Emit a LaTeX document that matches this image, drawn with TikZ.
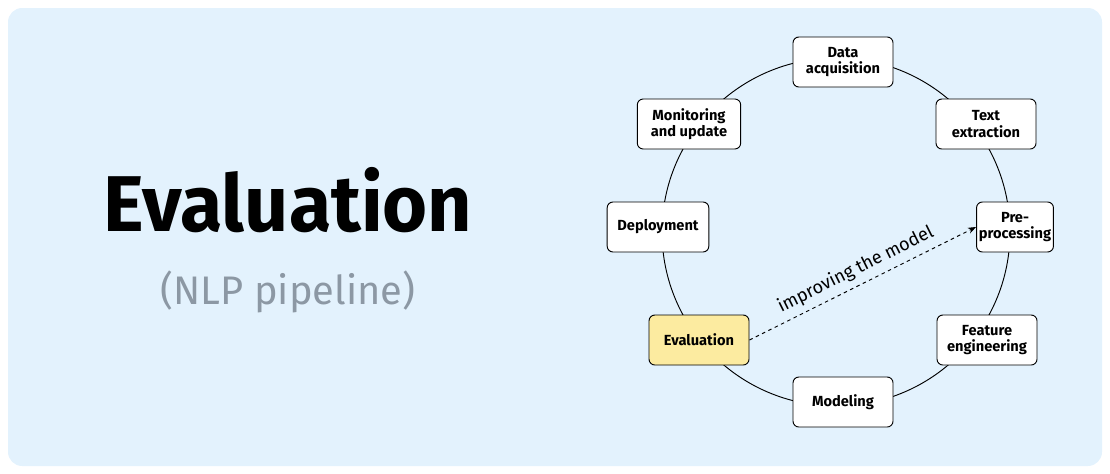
\documentclass[tikz,border=0pt]{standalone}
\usepackage{fontspec}
\setmainfont{Fira Sans}
\usetikzlibrary{arrows.meta}
\definecolor{bgblue}{HTML}{E3F2FD}
\definecolor{hl}{HTML}{FCEBA0}
\definecolor{subgray}{HTML}{8C98A4}
\begin{document}
\begin{tikzpicture}[x=0.03cm,y=-0.03cm,
  stage/.style={draw=black,line width=0.8pt,rounded corners=5pt,fill=white,align=center,
    font=\bfseries\fontsize{12.5}{14}\selectfont,inner sep=2pt,minimum height=1.5cm}]
\useasboundingbox (0,0) rectangle (1110,474);
\fill[bgblue,rounded corners=12pt] (8,8) rectangle (1102,466);
\node (title) at (288,200) {\scalebox{1.22}[1.25]{\bfseries\fontsize{54}{60}\selectfont Evaluation}};
\node[text=subgray,font=\fontsize{34}{38}\selectfont] (sub) at (288,292) {(NLP pipeline)};
\draw[line width=0.8pt] (836,232) circle [radius=174*0.03cm];
\node[stage,minimum width=3cm] (d) at (843,62) {Data\\acquisition};
\node[stage,minimum width=3cm] (t) at (986,124) {Text\\extraction};
\node[stage,minimum width=2.3cm] (p) at (1015,227) {Pre-\\processing};
\node[stage,minimum width=3cm] (f) at (987,340) {Feature\\engineering};
\node[stage,minimum width=3cm] (m) at (843,402) {Modeling};
\node[stage,minimum width=3cm,fill=hl] (e) at (699,340) {Evaluation};
\node[stage,minimum width=3.05cm] (dep) at (658,227) {Deployment};
\node[stage,minimum width=3.1cm] (mon) at (689,124) {Monitoring\\and update};
\draw[dashed,line width=0.8pt,-{Stealth[length=7pt]}] (e.east) -- node[sloped,above=2pt,font=\fontsize{15.5}{17}\selectfont] {improving the model} (p.west);
\end{tikzpicture}
\end{document}
